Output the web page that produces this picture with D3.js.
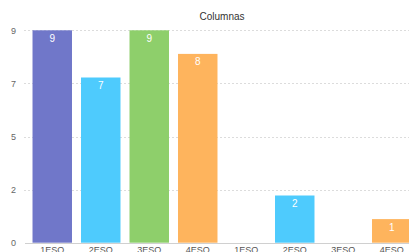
<!DOCTYPE html>
<html>
<head>
<meta charset="utf-8">
<script src="https://cdn.jsdelivr.net/npm/d3@7"></script>
<style>
  html, body { margin: 0; padding: 0; background: #fff; overflow: hidden; }
  svg { display: block; font-family: "Liberation Sans", Arial, Helvetica, sans-serif; }
</style>
</head>
<body>
<div id="chart"></div>
<script>
// Data
const categories = ["1ESO", "2ESO", "3ESO", "4ESO", "1ESO", "2ESO", "3ESO", "4ESO"];
const values = [9, 7, 9, 8, 0, 2, 0, 1];
const yTicks = [0, 2.25, 4.5, 6.75, 9];
const yTickLabels = ["0", "2", "5", "7", "9"];
const title = "Columnas";

const colorByCat = { "1ESO": "#7077c9", "2ESO": "#4ecbfd", "3ESO": "#8ecf6b", "4ESO": "#feb45d" };

const W = 409, H = 252;
const svg = d3.select("#chart").append("svg")
  .attr("width", W).attr("height", H);

const x = d3.scaleBand()
  .domain(d3.range(categories.length))
  .range([28, 416])
  .paddingInner(0.186)
  .paddingOuter(0.093);

const y = d3.scaleLinear().domain([0, 9]).range([242.7, 30.3]);

// Gridlines (dashed)
svg.append("g")
  .selectAll("line")
  .data(yTicks.slice(1))
  .join("line")
  .attr("x1", 24).attr("x2", W)
  .attr("y1", d => Math.round(y(d)) + 0.5).attr("y2", d => Math.round(y(d)) + 0.5)
  .attr("stroke", "#dcdcdc")
  .attr("stroke-dasharray", "2,2");

// Y axis labels
const yAxis = svg.append("g")
  .attr("transform", "translate(24,0)")
  .call(d3.axisLeft(y).tickValues(yTicks).tickSize(0).tickPadding(8)
    .tickFormat((d, i) => yTickLabels[i]));
yAxis.select(".domain").remove();
yAxis.selectAll("text").attr("fill", "#666").attr("font-size", 9)
  .attr("font-family", "Liberation Sans, Arial, sans-serif");

// Bars
svg.append("g")
  .selectAll("rect")
  .data(values)
  .join("rect")
  .attr("x", (d, i) => x(i))
  .attr("y", d => y(d))
  .attr("width", x.bandwidth())
  .attr("height", d => y(0) - y(d))
  .attr("fill", (d, i) => colorByCat[categories[i]]);

// Baseline
svg.append("line")
  .attr("x1", 25).attr("x2", W)
  .attr("y1", Math.round(y(0)) + 0.5).attr("y2", Math.round(y(0)) + 0.5)
  .attr("stroke", "#d0d0d0");

// Value labels inside bars
svg.append("g")
  .selectAll("text")
  .data(values.map((v, i) => ({ v, i })).filter(d => d.v > 0))
  .join("text")
  .attr("x", d => x(d.i) + x.bandwidth() / 2)
  .attr("y", d => y(d.v) + 8)
  .attr("dy", "0.35em")
  .attr("text-anchor", "middle")
  .attr("fill", "#fff")
  .attr("font-size", 10)
  .text(d => d.v);

// X axis labels
const xAxis = svg.append("g")
  .attr("transform", `translate(0,${y(0)})`)
  .call(d3.axisBottom(x).tickSize(0).tickPadding(4).tickFormat(i => categories[i]));
xAxis.select(".domain").remove();
xAxis.selectAll("text").attr("fill", "#555").attr("font-size", 9)
  .attr("font-family", "Liberation Sans, Arial, sans-serif");

// Title
svg.append("text")
  .attr("x", 222).attr("y", 16)
  .attr("dy", "0.35em")
  .attr("text-anchor", "middle")
  .attr("fill", "#333")
  .attr("font-size", 10)
  .text(title);
</script>
</body>
</html>
